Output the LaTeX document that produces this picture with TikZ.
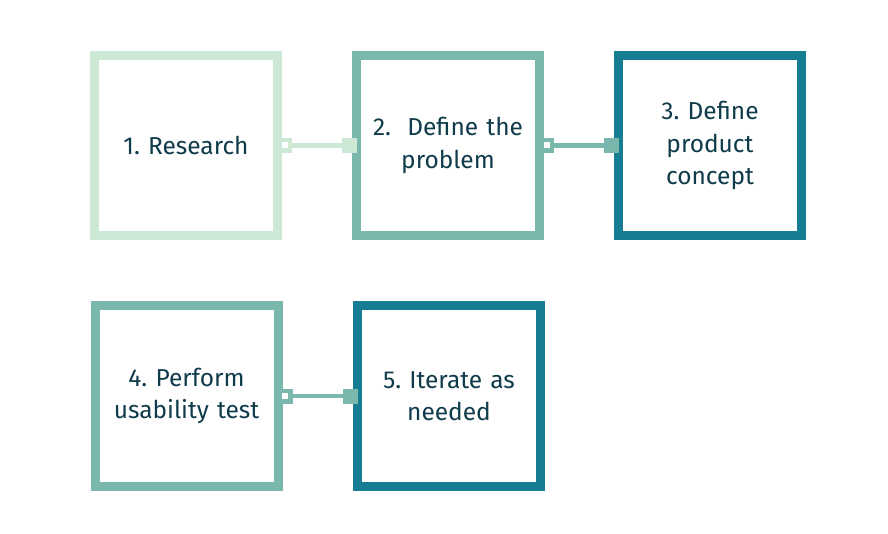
\documentclass[tikz,border=0pt]{standalone}
\usepackage{fontspec}
\setmainfont{Fira Sans}
\definecolor{cLight}{HTML}{CDE8D4}
\definecolor{cMid}{HTML}{7AB8AD}
\definecolor{cDark}{HTML}{167D93}
\definecolor{cText}{HTML}{0F3B4B}
\begin{document}
\frenchspacing
\begin{tikzpicture}[x=1pt,y=-1pt,
  box/.style={draw=#1, line width=9pt, fill=white, minimum width=183pt, minimum height=180pt,
    inner sep=0pt, text width=178pt, align=center, text=cText,
    font=\fontsize{24.5}{32.5}\selectfont\frenchspacing},
  opensq/.style={draw=#1, fill=white, line width=4.5pt, minimum size=10.5pt, inner sep=0pt},
  fillsq/.style={fill=#1, draw=none, minimum size=15pt, inner sep=0pt},
  conn/.style={draw=#1, line width=4.5pt}]
\useasboundingbox (0,0) rectangle (888,534);
\node[box=cLight] (a) at (186,145.5) {1. Research};
\node[box=cMid] (b) at (448,145.5) {2.\ \ Define the\\problem};
\node[box=cDark] (c) at (710,145.5) {3. Define\\product\\concept};
\node[box=cMid] (d) at (186.5,396) {4. Perform\\usability test};
\node[box=cDark] (e) at (449,396) {5. Iterate as\\needed};
\draw[conn=cLight] ([xshift=2.5pt]a.east) node[opensq=cLight]{} -- ([xshift=-2.5pt]b.west) node[fillsq=cLight]{};
\draw[conn=cMid] ([xshift=2.5pt]b.east) node[opensq=cMid]{} -- ([xshift=-2.5pt]c.west) node[fillsq=cMid]{};
\draw[conn=cMid] ([xshift=2.5pt]d.east) node[opensq=cMid]{} -- ([xshift=-2.5pt]e.west) node[fillsq=cMid]{};
\end{tikzpicture}
\end{document}
